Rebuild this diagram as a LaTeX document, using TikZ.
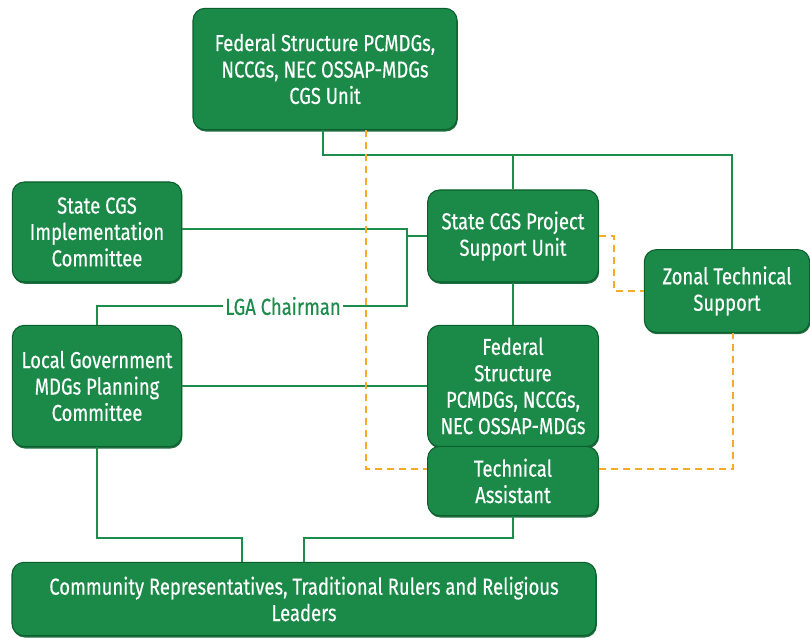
\documentclass[tikz,border=0pt]{standalone}
\usepackage{fontspec}
\setmainfont{Fira Sans}[FakeStretch=0.80, FakeBold=0.4]
\usepackage{xcolor}
\usepackage{tikz}
\usetikzlibrary{positioning,calc,shadows}
\definecolor{boxgreen}{RGB}{27, 138, 72}
\definecolor{boxdark}{RGB}{10, 95, 45}
\definecolor{linegreen}{RGB}{30, 140, 75}
\definecolor{dashorange}{RGB}{245, 170, 40}

\begin{document}
\begin{tikzpicture}[x=0.75pt, y=-0.75pt]
\tikzset{
  unit/.style={rectangle, rounded corners=9pt, fill=boxgreen, draw=boxdark, line width=0.8pt,
    drop shadow={shadow xshift=0.6pt, shadow yshift=-1.4pt, fill=boxdark, opacity=0.9},
    align=center, text=white, font=\fontsize{17.3}{19.8}\selectfont, inner sep=2pt},
  link/.style={draw=linegreen, line width=1.5pt},
  tie/.style={draw=dashorange, line width=1.4pt, dash pattern=on 5pt off 4pt},
  chair/.style={fill=white, text=linegreen, inner sep=2pt, font=\fontsize{17.3}{19}\selectfont}
}
\useasboundingbox (0,0) rectangle (810,638);
\node[unit, minimum width=198pt, minimum height=91pt] (fed)   at (325, 69)  {Federal Structure PCMDGs,\\NCCGs, NEC OSSAP-MDGs\\CGS Unit};
\node[unit, minimum width=127pt, minimum height=75pt] (impl)  at (97, 232)  {State CGS\\Implementation\\Committee};
\node[unit, minimum width=128pt, minimum height=69pt] (psu)   at (513, 236) {State CGS Project\\Support Unit};
\node[unit, minimum width=124pt, minimum height=62pt] (zonal) at (727, 291) {Zonal Technical\\Support};
\node[unit, minimum width=127pt, minimum height=91pt] (lgc)   at (97, 386)  {Local Government\\MDGs Planning\\Committee};
\node[unit, minimum width=128pt, minimum height=91pt] (fed2)  at (513, 386) {Federal\\Structure\\PCMDGs, NCCGs,\\NEC OSSAP-MDGs};
\node[unit, minimum width=128pt, minimum height=52pt] (ta)    at (513, 481) {Technical\\Assistant};
\node[unit, minimum width=438pt, minimum height=55pt] (comm)  at (304, 599) {Community Representatives, Traditional Rulers and Religious\\Leaders};
% solid links
\coordinate (jtop) at (407, 229);
\coordinate (jbot) at (407, 306);
\draw[link] (fed.south) ++(-2,0) -- ++(0,25) coordinate (bus) -| ($(zonal.north)+(5,0)$);
\draw[link] (psu.north) -- (psu.north |- bus);
\draw[link] (impl.east |- jtop) -- (jtop) -- (jbot) -- node[chair, pos=0.4] (lga) {LGA Chairman} (jbot -| lgc.north) -- (lgc.north);
\draw[link] (jtop |- psu.west) -- (psu.west);
\draw[link] (psu.south) -- (fed2.north);
\draw[link] (lgc.east) -- (fed2.east -| fed2.west);
\draw[link] (lgc.south) -- ++(0,91) -| ($(comm.north)+(-62,0)$);
\draw[link] (ta.south) -- ++(0,22) -| (comm.north);
% dashed ties
\coordinate (dl) at (366, 469);
\draw[tie] (fed.south -| dl) -- (dl) -- (dl -| ta.west);
\draw[tie] (ta.east |- dl) -| ($(zonal.south)+(6,0)$);
\draw[tie] (psu.east) -- ++(15,0) |- (zonal.west);
\end{tikzpicture}
\end{document}
